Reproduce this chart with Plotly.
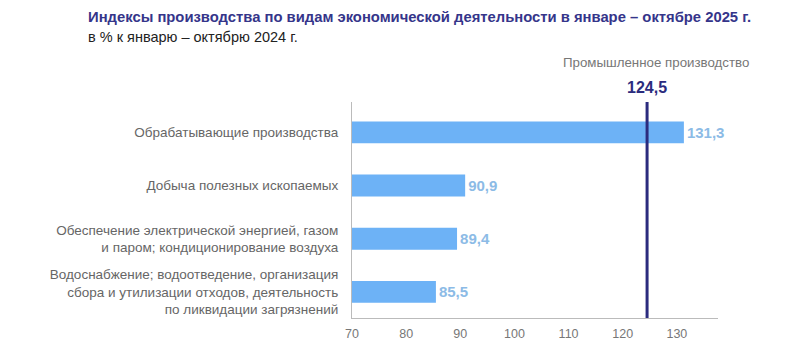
import plotly.graph_objects as go

categories = [
    "Обрабатывающие производства",
    "Добыча полезных ископаемых",
    "Обеспечение электрической энергией, газом<br>и паром; кондиционирование воздуха",
    "Водоснабжение; водоотведение, организация<br>сбора и утилизации отходов, деятельность<br>по ликвидации загрязнений",
]
values = [131.3, 90.9, 89.4, 85.5]
industry_total = 124.5
industry_label = "Промышленное производство"
tick_values = [70, 80, 90, 100, 110, 120, 130]

title_text = "Индексы производства по видам экономической деятельности в январе – октябре 2025 г."
subtitle_text = "в % к январю – октябрю 2024 г."

FONT = "Liberation Sans, Arial, sans-serif"
NAVY = "#2b2b7e"

TOP, BOT, LEFT, RIGHT = 102, 318, 352, 718
H = BOT - TOP
W = RIGHT - LEFT

fig = go.Figure()
fig.add_trace(go.Bar(
    y=categories, x=values, orientation="h",
    marker=dict(color="#6DB2F6", line=dict(width=0)),
    width=0.41,
    text=["<b>" + f"{v:.1f}".replace(".", ",") + "</b>" for v in values],
    textposition="outside",
    textfont=dict(family=FONT, size=15, color="#8CBBE6"),
    cliponaxis=False,
    hoverinfo="skip",
))

fig.add_shape(type="line", xref="x", yref="paper",
              x0=industry_total, x1=industry_total, y0=0, y1=1,
              line=dict(color=NAVY, width=3))

fig.add_annotation(x=industry_total, xref="x", y=(BOT - 88) / H, yref="paper",
                   yanchor="middle",
                   text="<b>" + f"{industry_total:.1f}".replace(".", ",") + "</b>",
                   showarrow=False, font=dict(family=FONT, size=16, color=NAVY))
fig.add_annotation(x=industry_total, xref="x", xshift=9, y=(BOT - 62) / H, yref="paper",
                   yanchor="middle",
                   text=industry_label, showarrow=False,
                   font=dict(family=FONT, size=13.3, color="#777777"))

fig.add_annotation(x=(86 - LEFT) / W, xref="paper", xanchor="left",
                   y=(BOT - 17) / H, yref="paper", yanchor="middle",
                   text="<b>" + title_text + "</b>",
                   showarrow=False, font=dict(family=FONT, size=14.8, color="#35358a"))
fig.add_annotation(x=(86 - LEFT) / W, xref="paper", xanchor="left",
                   y=(BOT - 37) / H, yref="paper", yanchor="middle",
                   text=subtitle_text,
                   showarrow=False, font=dict(family=FONT, size=14.5, color="#222222"))

fig.update_layout(
    width=800, height=352,
    margin=dict(l=LEFT, r=800 - RIGHT, t=TOP, b=352 - BOT),
    paper_bgcolor="white", plot_bgcolor="white",
    showlegend=False,
    separators=", ",
    xaxis=dict(range=[70, 137.6], tickvals=tick_values,
               ticktext=[str(t) for t in tick_values],
               showgrid=False, zeroline=False, showline=True,
               linecolor="#bbbbbb", linewidth=1, ticks="",
               ticklabelstandoff=4,
               tickfont=dict(family=FONT, size=12.5, color="#777777")),
    yaxis=dict(categoryorder="array", categoryarray=categories,
               range=[3.49, -0.57], showgrid=False, zeroline=False,
               showline=True, linecolor="#bbbbbb", linewidth=1, ticks="",
               ticklabelstandoff=10,
               tickfont=dict(family=FONT, size=13.5, color="#666666")),
)

fig.write_html("out.html")
